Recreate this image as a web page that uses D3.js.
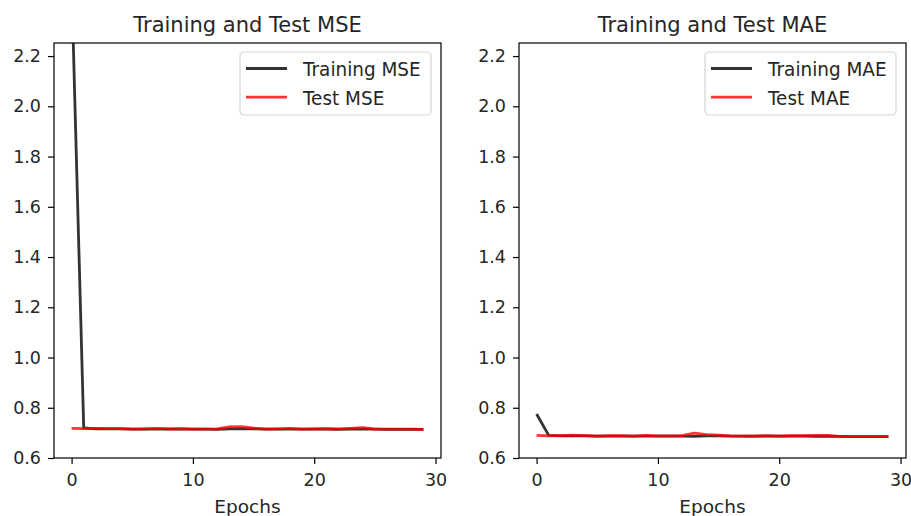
<!DOCTYPE html>
<html>
<head>
<meta charset="utf-8">
<script src="https://cdn.jsdelivr.net/npm/d3@7"></script>
<style>
  body { margin: 0; background: #fff; }
  svg { display: block; font-family: "DejaVu Sans", sans-serif; }
</style>
</head>
<body>
<svg id="drawing_region"></svg>
<script>
// epochs 0..29
const epochs = [0,1,2,3,4,5,6,7,8,9,10,11,12,13,14,15,16,17,18,19,20,21,22,23,24,25,26,27,28,29];

const train_mse = [2.50, 0.720, 0.716, 0.716, 0.716, 0.715, 0.715, 0.715, 0.715, 0.715,
                   0.715, 0.715, 0.714, 0.716, 0.717, 0.716, 0.715, 0.715, 0.715, 0.715,
                   0.715, 0.715, 0.714, 0.715, 0.716, 0.715, 0.714, 0.714, 0.714, 0.714];
const test_mse  = [0.718, 0.717, 0.718, 0.717, 0.717, 0.715, 0.716, 0.718, 0.716, 0.717,
                   0.715, 0.715, 0.716, 0.724, 0.725, 0.719, 0.715, 0.716, 0.718, 0.715,
                   0.716, 0.717, 0.716, 0.718, 0.721, 0.715, 0.715, 0.715, 0.715, 0.714];

const train_mae = [0.775, 0.690, 0.688, 0.688, 0.688, 0.687, 0.687, 0.687, 0.687, 0.687,
                   0.687, 0.687, 0.687, 0.686, 0.688, 0.688, 0.687, 0.687, 0.687, 0.687,
                   0.687, 0.687, 0.687, 0.686, 0.687, 0.686, 0.685, 0.685, 0.685, 0.685];
const test_mae  = [0.690, 0.688, 0.689, 0.691, 0.689, 0.687, 0.689, 0.689, 0.687, 0.690,
                   0.688, 0.688, 0.689, 0.699, 0.693, 0.691, 0.688, 0.687, 0.687, 0.689,
                   0.687, 0.689, 0.689, 0.690, 0.690, 0.685, 0.685, 0.685, 0.685, 0.685];

const xticks = [0, 10, 20, 30];
const yticks = [0.6, 0.8, 1.0, 1.2, 1.4, 1.6, 1.8, 2.0, 2.2];

const svg = d3.select('#drawing_region')
    .attr('width', 911)
    .attr('height', 516);

class LossPlot {

    constructor( config, train, test ) {
        this.config = config;
        this.train = train;
        this.test = test;
        this.init();
    }

    init() {
        let self = this;
        const c = self.config;

        self.inner_width = c.width;
        self.inner_height = c.height;

        self.chart = svg.append('g')
            .attr('transform', `translate(${c.left}, ${c.top})`);

        self.xscale = d3.scaleLinear()
            .domain( [-1.45, 30.45] )
            .range( [0, self.inner_width] );

        self.yscale = d3.scaleLinear()
            .domain( [0.6, 2.252] )
            .range( [self.inner_height, 0] );

        self.xaxis = d3.axisBottom( self.xscale )
            .tickValues( xticks )
            .tickSize(6)
            .tickSizeOuter(0)
            .tickPadding(6);

        self.yaxis = d3.axisLeft( self.yscale )
            .tickValues( yticks )
            .tickFormat( d3.format('.1f') )
            .tickSize(6)
            .tickSizeOuter(0)
            .tickPadding(7);

        self.clip_id = c.id + '_clip';
        self.chart.append('clipPath')
            .attr('id', self.clip_id)
            .append('rect')
            .attr('width', self.inner_width)
            .attr('height', self.inner_height);
    }

    render() {
        let self = this;
        const c = self.config;

        const line = d3.line()
            .x( (d, i) => self.xscale( epochs[i] ) )
            .y( d => self.yscale( d ) );

        const lines = self.chart.append('g')
            .attr('clip-path', `url(#${self.clip_id})`);

        lines.append('path')
            .datum(self.train)
            .attr('d', line)
            .attr('fill', 'none')
            .attr('stroke', 'black')
            .attr('stroke-opacity', 0.8)
            .attr('stroke-width', 2.8)
            .attr('stroke-linejoin', 'round');

        lines.append('path')
            .datum(self.test)
            .attr('d', line)
            .attr('fill', 'none')
            .attr('stroke', 'red')
            .attr('stroke-opacity', 0.8)
            .attr('stroke-width', 2.8)
            .attr('stroke-linejoin', 'round');

        const xg = self.chart.append('g')
            .attr('transform', `translate(0, ${self.inner_height})`)
            .call( self.xaxis );
        const yg = self.chart.append('g')
            .call( self.yaxis );

        [xg, yg].forEach( g => {
            g.select('.domain').remove();
            g.attr('font-family', '"DejaVu Sans", sans-serif')
             .attr('font-size', 17.5);
            g.selectAll('.tick line').attr('stroke', '#000').attr('stroke-width', 1.2);
            g.selectAll('.tick text').attr('fill', '#262626');
        });
        xg.selectAll('.tick text').attr('dy', '0.9em');

        // spines
        self.chart.append('rect')
            .attr('width', self.inner_width)
            .attr('height', self.inner_height)
            .attr('fill', 'none')
            .attr('stroke', '#000')
            .attr('stroke-width', 1.2);

        // title
        self.chart.append('text')
            .attr('x', self.inner_width/2)
            .attr('y', -11)
            .attr('text-anchor', 'middle')
            .attr('font-size', 21)
            .attr('fill', '#262626')
            .text(c.title);

        // x label
        self.chart.append('text')
            .attr('x', self.inner_width/2)
            .attr('y', self.inner_height + 55)
            .attr('text-anchor', 'middle')
            .attr('font-size', 18.5)
            .attr('fill', '#262626')
            .text('Epochs');

        // legend
        const lw = 191, lh = 63;
        const legend = self.chart.append('g')
            .attr('transform', `translate(${self.inner_width - 10 - lw}, 9)`);
        legend.append('rect')
            .attr('width', lw)
            .attr('height', lh)
            .attr('rx', 4)
            .attr('fill', 'white')
            .attr('fill-opacity', 0.8)
            .attr('stroke', '#d4d4d4')
            .attr('stroke-width', 1.2);

        const items = [
            { label: c.labels[0], color: 'black' },
            { label: c.labels[1], color: 'red' }
        ];
        items.forEach( (d, i) => {
            const y = 16.5 + i * 28.6;
            legend.append('line')
                .attr('x1', 6).attr('x2', 47)
                .attr('y1', y).attr('y2', y)
                .attr('stroke', d.color)
                .attr('stroke-opacity', 0.8)
                .attr('stroke-width', 2.8);
            const t = legend.append('text')
                .attr('x', 63)
                .attr('y', y + 7.8)
                .attr('font-size', 20)
                .attr('fill', '#262626')
                .text(d.label);
            // condensed look
            const len = t.node().getComputedTextLength();
            t.attr('textLength', len * 0.92).attr('lengthAdjust', 'spacingAndGlyphs');
        });
    }
}

const mse_plot = new LossPlot({
    id: 'mse', left: 54, top: 43, width: 387, height: 415,
    title: 'Training and Test MSE', labels: ['Training MSE', 'Test MSE']
}, train_mse, test_mse);
mse_plot.render();

const mae_plot = new LossPlot({
    id: 'mae', left: 519, top: 43, width: 387, height: 415,
    title: 'Training and Test MAE', labels: ['Training MAE', 'Test MAE']
}, train_mae, test_mae);
mae_plot.render();
</script>
</body>
</html>
